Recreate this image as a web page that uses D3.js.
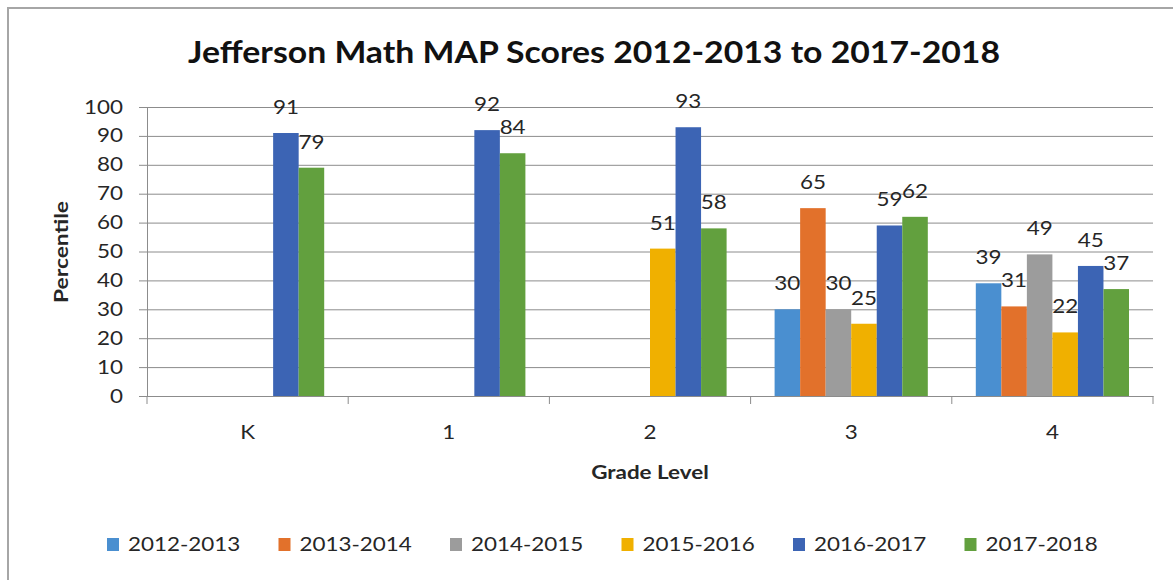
<!DOCTYPE html>
<html>
<head>
<meta charset="utf-8">
<script src="https://cdnjs.cloudflare.com/ajax/libs/d3/7.8.5/d3.min.js"></script>
<style>
  body { margin: 0; background: #fff; }
  text { font-family: Lato, "Open Sans", sans-serif; fill: #262626; }
  .sx { transform-box: fill-box; transform-origin: center; transform: scaleX(1.18); }
  .sxr { transform-box: fill-box; transform-origin: right center; transform: scaleX(1.18); }
  .sxl { transform-box: fill-box; transform-origin: left center; transform: scaleX(1.18); }
  .title { transform-box: fill-box; transform-origin: center; transform: scaleX(1.09); }
</style>
</head>
<body>
<svg id="chart" width="1173" height="580"></svg>
<script>
// data
var grades = ["K", "1", "2", "3", "4"];
var years = ["2012-2013", "2013-2014", "2014-2015", "2015-2016", "2016-2017", "2017-2018"];
var s2012 = [null, null, null, 30, 39];
var s2013 = [null, null, null, 65, 31];
var s2014 = [null, null, null, 30, 49];
var s2015 = [null, null, 51, 25, 22];
var s2016 = [91, 92, 93, 59, 45];
var s2017 = [79, 84, 58, 62, 37];
var yTicks = [0, 10, 20, 30, 40, 50, 60, 70, 80, 90, 100];
var colors = ["#4a8fd0", "#e2712b", "#9c9c9c", "#f0b000", "#3c64b4", "#62a03e"];

var series = [s2012, s2013, s2014, s2015, s2016, s2017];

var margin = {top: 107, right: 20, bottom: 184, left: 147},
    width = 1153 - margin.left,
    height = 396 - margin.top;

var svg = d3.select("#chart");

// outer border
svg.append("rect")
    .attr("x", 8).attr("y", 8)
    .attr("width", 1190).attr("height", 600)
    .attr("fill", "none")
    .attr("stroke", "#a6a6a6")
    .attr("stroke-width", 2);

svg.append("text")
    .attr("class", "title")
    .attr("x", 594).attr("y", 63)
    .attr("text-anchor", "middle")
    .style("font-size", "31px")
    .style("font-weight", "bold")
    .style("fill", "#111")
    .text("Jefferson Math MAP Scores 2012-2013 to 2017-2018");

var g = svg.append("g")
    .attr("transform", "translate(" + margin.left + "," + margin.top + ")");

var x0 = d3.scaleBand().domain(grades).range([0, width]).padding(0);
var x1 = d3.scaleBand().domain(years).range([24, x0.bandwidth() - 24]).padding(0);
var y = d3.scaleLinear().domain([0, 100]).range([height, 0]);

// y axis with gridlines
var yAxis = g.append("g")
    .call(d3.axisLeft(y).tickValues(yTicks).tickSizeInner(-width).tickSizeOuter(0).tickPadding(16));
yAxis.select(".domain").attr("stroke", "#8c8c8c");
yAxis.selectAll(".tick line").attr("x1", -8).attr("stroke", "#8c8c8c");
yAxis.selectAll(".tick text")
    .attr("class", "sxr")
    .attr("x", -24)
    .style("font-size", "19px")
    .style("fill", "#262626");

// x axis
var xAxis = g.append("g")
    .attr("transform", "translate(0," + height + ")")
    .call(d3.axisBottom(x0).tickSize(0).tickPadding(30));
xAxis.select(".domain").attr("stroke", "#8c8c8c");
xAxis.selectAll(".tick text")
    .attr("class", "sx")
    .style("font-size", "19px")
    .style("fill", "#262626");

var edges = grades.map(function(d) { return x0(d); }).concat([width]);
g.append("g").selectAll("line")
    .data(edges)
    .enter().append("line")
    .attr("x1", function(d) { return d; })
    .attr("x2", function(d) { return d; })
    .attr("y1", height)
    .attr("y2", height + 8)
    .attr("stroke", "#8c8c8c");

// bars
var rows = [];
grades.forEach(function(gr, i) {
    years.forEach(function(yr, j) {
        if (series[j][i] != null) rows.push({grade: gr, year: yr, idx: j, value: series[j][i]});
    });
});

g.selectAll(".bar")
    .data(rows)
    .enter().append("rect")
    .attr("class", "bar")
    .attr("x", function(d) { return x0(d.grade) + x1(d.year); })
    .attr("width", x1.bandwidth())
    .attr("y", function(d) { return y(d.value); })
    .attr("height", function(d) { return height - y(d.value); })
    .attr("fill", function(d) { return colors[d.idx]; });

g.selectAll(".lbl")
    .data(rows)
    .enter().append("text")
    .attr("class", "lbl sx")
    .attr("x", function(d) { return x0(d.grade) + x1(d.year) + x1.bandwidth() / 2; })
    .attr("y", function(d) { return y(d.value) - 19; })
    .attr("text-anchor", "middle")
    .style("font-size", "19px")
    .text(function(d) { return d.value; });

// axis titles
svg.append("text")
    .attr("class", "sx")
    .attr("x", 650).attr("y", 479)
    .attr("text-anchor", "middle")
    .style("font-size", "19px")
    .style("font-weight", "bold")
    .text("Grade Level");

svg.append("text")
    .attr("transform", "translate(68,252) rotate(-90) scale(1.2,1)")
    .attr("text-anchor", "middle")
    .style("font-size", "19px")
    .style("font-weight", "bold")
    .text("Percentile");

// legend
var legend = svg.append("g").selectAll("g")
    .data(years)
    .enter().append("g")
    .attr("transform", function(d, i) { return "translate(" + (107 + i * 171.5) + ",538)"; });
legend.append("rect")
    .attr("width", 12).attr("height", 13)
    .attr("fill", function(d, i) { return colors[i]; });
legend.append("text")
    .attr("class", "sxl")
    .attr("x", 21).attr("y", 13)
    .style("font-size", "19px")
    .text(function(d) { return d; });
</script>
</body>
</html>
